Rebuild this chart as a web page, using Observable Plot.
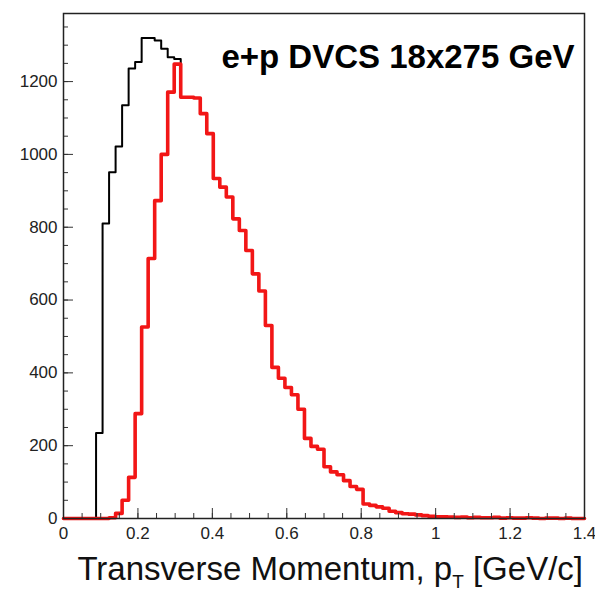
<!DOCTYPE html>
<html><head><meta charset="utf-8">
<script src="https://cdn.jsdelivr.net/npm/d3@7"></script>
<script src="https://cdn.jsdelivr.net/npm/@observablehq/plot@0.6"></script>
<style>body{margin:0;background:#fff} #chart svg{display:block}</style>
</head><body><div id="chart"></div>
<script>
// histogram layout: 80 bins over [0, 1.4]
const binWidth = 0.0175;
const xTickLabels = [0, 0.2, 0.4, 0.6, 0.8, 1.0, 1.2, 1.4];
const yTickLabels = [0, 200, 400, 600, 800, 1000, 1200];
const annotation = "e+p DVCS 18x275 GeV";

// black histogram (bin contents, bins 0..79)
const blackCounts = [
  0, 0, 0, 0, 0, 235, 810, 951, 1022, 1135,
  1236, 1254, 1320, 1320, 1313, 1290, 1267, 1262, 1157, 1157,
  1155, 1112, 1057, 934, 910, 883, 823, 791, 736, 672,
  625, 530, 415, 385, 360, 340, 300, 220, 198, 190,
  142, 128, 120, 104, 88, 80, 40, 36, 32, 28,
  20, 16, 13, 12, 10, 8, 6, 5, 5, 4,
  3, 4, 2, 3, 2, 2, 3, 1, 2, 1,
  1, 2, 1, 0, 1, 1, 0, 1, 0, 0
];
// red histogram (bin contents, bins 0..79)
const redCounts = [
  0, 0, 0, 0, 0, 0, 0, 2, 14, 50,
  113, 288, 526, 714, 873, 1000, 1171, 1248, 1157, 1157,
  1155, 1112, 1057, 934, 910, 883, 823, 791, 736, 672,
  625, 530, 415, 385, 360, 340, 300, 220, 198, 190,
  142, 128, 120, 104, 88, 80, 40, 36, 32, 28,
  20, 16, 13, 12, 10, 8, 6, 5, 5, 4,
  3, 4, 2, 3, 2, 2, 3, 1, 2, 1,
  1, 2, 1, 0, 1, 1, 0, 1, 0, 0
];

function steps(counts) {
  const pts = counts.map((c, i) => ({x: i * binWidth, y: c}));
  pts.push({x: counts.length * binWidth, y: counts[counts.length - 1]});
  return pts;
}

const xMinor = d3.range(0, 1.4001, 0.05);
const yMinor = d3.range(0, 1387, 50);
const font = "'Liberation Sans', Arial, Helvetica, sans-serif";

const chart = Plot.plot({
  width: 595, height: 592,
  marginLeft: 63, marginRight: 11, marginTop: 13, marginBottom: 74,
  style: {fontFamily: font, background: "white", color: "#222"},
  x: {domain: [0, 1.4], label: null},
  y: {domain: [0, 1387], label: null},
  marks: [
    Plot.line(steps(blackCounts), {x: "x", y: "y", curve: "step-after", stroke: "black", strokeWidth: 2}),
    Plot.line(steps(redCounts), {x: "x", y: "y", curve: "step-after", stroke: "#f21616", strokeWidth: 3.6}),
    Plot.axisX({ticks: xMinor, tickSize: -5, text: null, label: null, stroke: "#333"}),
    Plot.axisX({ticks: xTickLabels, tickSize: -10, text: null, label: null, stroke: "#333"}),
    Plot.axisX({ticks: xTickLabels, tickSize: 0, tickPadding: 8, fontSize: 17, label: null,
      tickFormat: d => String(+d.toFixed(1)), fill: "#222"}),
    Plot.axisY({ticks: yMinor, tickSize: -5, text: null, label: null, stroke: "#333"}),
    Plot.axisY({ticks: yTickLabels, tickSize: -10, text: null, label: null, stroke: "#333"}),
    Plot.axisY({ticks: yTickLabels, tickSize: 0, tickPadding: 6, fontSize: 17, label: null,
      tickFormat: d => String(d), fill: "#222"}),
    Plot.frame({stroke: "#222", strokeWidth: 1.5}),
    Plot.text([annotation], {frameAnchor: "top-right", dx: -10, dy: 44, fontSize: 33,
      fontWeight: "bold", textAnchor: "end", lineAnchor: "middle", fill: "black"})
  ]
});

const svg = d3.select(chart);
const title = svg.append("text")
  .attr("x", 583).attr("y", 580)
  .attr("text-anchor", "end")
  .attr("fill", "#111")
  .style("font-family", font)
  .style("font-size", "33px");
title.append("tspan").text("Transverse Momentum, p");
title.append("tspan").attr("dy", 8).style("font-size", "19px").text("T");
title.append("tspan").attr("dy", -8).text(" [GeV/c]");

document.getElementById("chart").append(chart);
</script>
</body></html>
